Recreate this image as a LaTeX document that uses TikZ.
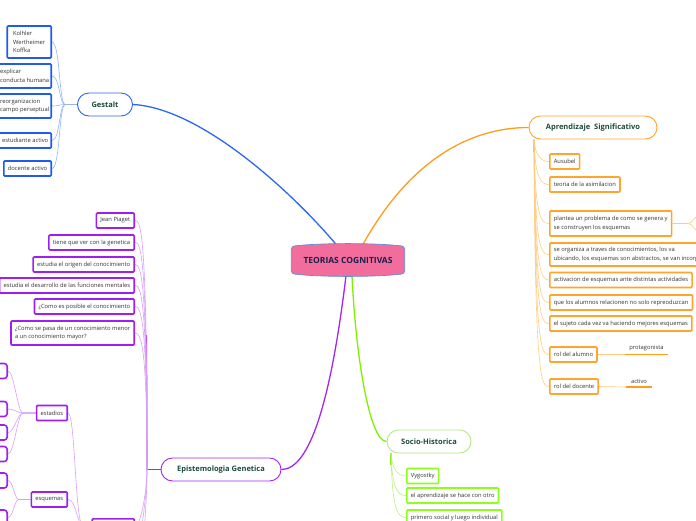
\documentclass[tikz,border=0pt]{standalone}
\usepackage{fontspec}
\setmainfont{Open Sans}
\usetikzlibrary{calc,backgrounds}
\definecolor{cpink}{HTML}{F26D9B}
\definecolor{cedge}{HTML}{5B8FD6}
\definecolor{cnavy}{HTML}{1A1F4F}
\definecolor{ctitle}{HTML}{1D4B3C}
\definecolor{ctxt}{HTML}{333333}
\definecolor{bmain}{HTML}{2B67F2}
\definecolor{bedge}{HTML}{1F5BF0}
\definecolor{blite}{HTML}{93B5F6}
\definecolor{omain}{HTML}{FF9C1A}
\definecolor{oedge}{HTML}{FFA52E}
\definecolor{olite}{HTML}{FFCB80}
\definecolor{pmain}{HTML}{A526EE}
\definecolor{pedge}{HTML}{A01FF0}
\definecolor{plite}{HTML}{D6A0F8}
\definecolor{gmain}{HTML}{80F000}
\definecolor{gedge}{HTML}{8CFF1A}
\definecolor{glite}{HTML}{BDF07D}
\definecolor{gnode}{HTML}{B8E58A}
\tikzset{
 topic/.style={draw, line width=0.9pt, rounded corners=11.5pt, minimum height=23pt, fill=white, text=ctitle, font=\fontsize{7.5}{9}\selectfont\bfseries, inner xsep=6pt},
 leaf/.style={draw, line width=1.6pt, rounded corners=1pt, fill=white, text=ctxt, font=\fontsize{5.8}{8.6}\selectfont, inner xsep=4pt, inner ysep=2pt, minimum height=15pt, align=left},
 twig/.style={line width=0.6pt},
 trunk/.style={line width=1.8pt},
 mainline/.style={line width=1.3pt},
 plain/.style={font=\fontsize{5.8}{8.6}\selectfont, text=ctxt, inner sep=1pt},
}
\begin{document}
\begin{tikzpicture}[x=1pt,y=-1pt]
\useasboundingbox (0,0) rectangle (696,520);
\clip (0,0) rectangle (696,520);

% central
\node[minimum width=114pt, minimum height=31pt, text=cnavy, font=\fontsize{8.5}{10}\selectfont\bfseries] (c) at (348,260) {TEORIAS COGNITIVAS};

% main topics
\node[topic, draw=bmain, minimum width=55pt] (g) at (105,104.5) {Gestalt};
\node[topic, draw=oedge, minimum width=128pt] (a) at (593,127.5) {Aprendizaje\ \ Significativo};
\node[topic, draw=pmain, minimum width=120pt] (e) at (221,469.5) {Epistemologia Genetica};
\node[topic, draw=gnode, minimum width=84pt] (s) at (429,441.5) {Socio-Historica};

% Gestalt leaves
\node[leaf, draw=bedge, anchor=east, minimum height=32pt, minimum width=44pt] (g1) at (52,42) {Kolhler\\Wertheimer\\Koffka};
\node[leaf, draw=bedge, anchor=east, minimum height=24pt, inner xsep=2pt] (g2) at (52,76) {explicar\\conducta humana};
\node[leaf, draw=bedge, anchor=east, minimum height=24pt, inner xsep=2pt] (g3) at (52,106) {reorganizacion\\campo perseptual};
\node[leaf, draw=bedge, anchor=east, inner xsep=3pt] (g4) at (52,140.5) {estudiante activo};
\node[leaf, draw=bedge, anchor=east] (g5) at (52,168.5) {docente activo};

% Aprendizaje leaves
\node[leaf, draw=oedge, anchor=west] (o1) at (549,161.5) {Ausubel};
\node[leaf, draw=oedge, anchor=west] (o2) at (549,184.5) {teoria de la asimilacion};
\node[leaf, draw=oedge, anchor=west, minimum height=25pt] (o3) at (549,223.5) {plantea un problema de como se genera y\\se construyen los esquemas};
\node[leaf, draw=oedge, anchor=west, minimum height=23pt] (o4) at (549,254.5) {se organiza a traves de conocimientos, los va\\ubicando, los esquemas son abstractos, se van incorporando};
\node[leaf, draw=oedge, anchor=west] (o5) at (549,280) {activacion de esquemas ante distintas actividades};
\node[leaf, draw=oedge, anchor=west] (o6) at (549,302.5) {que los alumnos relacionen no solo repreoduzcan};
\node[leaf, draw=oedge, anchor=west] (o7) at (549,323.5) {el sujeto cada vez va haciendo mejores esquemas};
\node[leaf, draw=oedge, anchor=west] (o8) at (549,354.5) {rol del alumno};
\node[leaf, draw=oedge, anchor=west] (o9) at (549,386.5) {rol del docente};
\coordinate (u1a) at (625,354.5);
\coordinate (u1b) at (668,354.5);
\coordinate (u2a) at (626,387);
\coordinate (u2b) at (652,387);
\node[plain, anchor=south] (pr) at ($(u1a)!0.5!(u1b)+(0,-2)$) {protagonista};
\node[plain, anchor=south] (ac) at ($(u2a)!0.5!(u2b)+(0,-2)$) {activo};
\coordinate (fk0) at (688,223.5);
\coordinate (fk1) at (700,215);
\coordinate (fk2) at (700,232);

% Epistemologia leaves
\node[leaf, draw=pedge, anchor=east] (p1) at (135,220.5) {Jean Piaget};
\node[leaf, draw=pedge, anchor=east] (p2) at (135,242.5) {tiene que ver con la genetica};
\node[leaf, draw=pedge, anchor=east] (p3) at (135,264.5) {estudia el origen del conocimiento};
\node[leaf, draw=pedge, anchor=east] (p4) at (135,285.5) {estudia el desarrollo de las funciones mentales};
\node[leaf, draw=pedge, anchor=east] (p5) at (135,306.5) {¿Como es posible el conocimiento};
\node[leaf, draw=pedge, anchor=east, minimum height=24pt] (p6) at (135,333) {¿Como se pasa de un conocimiento menor\\a un conocimiento mayor?};
\node[leaf, draw=pedge, anchor=north east, minimum width=42pt] (p7) at (135,518) {};
\node[leaf, draw=pedge, anchor=east] (est) at (68,413) {estadios};
\node[leaf, draw=pedge, anchor=east] (esq) at (68,499.5) {esquemas};
\node[leaf, draw=pedge, anchor=east, minimum width=30pt, rounded corners=3pt] (e1) at (8,371) {};
\node[leaf, draw=pedge, anchor=east, minimum width=30pt, rounded corners=3pt] (e2) at (8,409) {};
\node[leaf, draw=pedge, anchor=east, minimum width=30pt, rounded corners=3pt] (e3) at (8,432.5) {};
\node[leaf, draw=pedge, anchor=east, minimum width=30pt, rounded corners=3pt] (e4) at (8,454) {};
\node[leaf, draw=pedge, anchor=east, minimum width=30pt, rounded corners=3pt] (q1) at (8,480.5) {};
\node[leaf, draw=pedge, anchor=east, minimum width=30pt, rounded corners=3pt] (q2) at (8,517.5) {};
\coordinate (pc8) at (139,560);
\coordinate (pc9) at (142,600);

% Socio leaves
\node[leaf, draw=gedge, anchor=west] (s1) at (406,476) {Vygostky};
\node[leaf, draw=gedge, anchor=west] (s2) at (406,495.5) {el aprendizaje se hace con otro};
\node[leaf, draw=gedge, anchor=west] (s3) at (406,517.5) {primero social y luego individual};

\begin{scope}[on background layer]
% main connectors
\draw[mainline, bmain] ([xshift=-12pt]c.north) .. controls (290,190) and (200,108) .. (g.east);
\draw[mainline, omain] ([xshift=15pt]c.north) .. controls (410,160) and (470,127.5) .. (a.west);
\draw[mainline, pmain] ([xshift=-2pt]c.south) .. controls (331,400) and (310,469.5) .. (e.east);
\draw[mainline, gmain] ([xshift=4pt]c.south) .. controls (356,360) and (370,441.5) .. (s.west);

% central barrel shape
\draw[draw=cedge, fill=cpink, line width=0.7pt, rounded corners=3pt]
  ($(c.north west)+(0.5,2)$) .. controls ($(c.north west)+(30,-1.5)$) and ($(c.north east)+(-30,-1.5)$) .. ($(c.north east)+(-0.5,2)$)
  -- ($(c.south east)+(-0.5,-2)$) .. controls ($(c.south east)+(-30,1.5)$) and ($(c.south west)+(30,1.5)$) .. ($(c.south west)+(0.5,-2)$) -- cycle;

% Gestalt twigs
\foreach \n in {g1,g2,g3,g4,g5}
  \draw[twig, blite] (g.west) -- ++(-12,0) .. controls +(-6,0) and +(8,0) .. (\n.east);

% Aprendizaje twigs
\coordinate (at) at (534,139.5);
\draw[trunk, omain] (at) -- (534,152);
\foreach \n in {o1,o2,o3,o4,o5,o6,o7,o8,o9}
  \draw[twig, olite] (at) .. controls ($(at|-\n.west)+(1,-6)$) and ($(\n.west)+(-8,0)$) .. (\n.west);
\draw[twig, olite] (o8.east) -- (u1a);
\draw[line width=1.2pt, omain] (u1a) -- (u1b);
\draw[twig, olite] (o9.east) -- (u2a);
\draw[line width=1.2pt, omain] (u2a) -- (u2b);
\draw[twig, olite] (o3.east) -- (fk0) .. controls (693,223.5) and (694,216) .. (fk1);
\draw[twig, olite] (fk0) .. controls (693,223.5) and (694,231) .. (fk2);

% Epistemologia twigs
\coordinate (et) at (147,469.5);
\draw[trunk, pmain] (e.west) -- (et);
\draw[line width=1.2pt, pmain] (et) -- (146.5,335);
\foreach \n in {p1,p2,p3,p4,p5,p6}
  \draw[twig, plite] (et) .. controls ($(et|-\n.east)+(0,12)$) and ($(\n.east)+(6,0)$) .. (\n.east);
\draw[twig, plite] (et) .. controls (147,490) and (141,525.5) .. (p7.east);
\draw[twig, plite] (et) .. controls (147,500) and (140,530) .. (pc8);
\draw[twig, plite] (et) .. controls (147,510) and (142,540) .. (pc9);
\coordinate (pj) at (82,525.5);
\draw[twig, plite] (p7.west) -- (pj) .. controls (75,515) and (75,413) .. (est.east);
\draw[twig, plite] (pj) .. controls (76,520) and (76,499.5) .. (esq.east);
\foreach \n in {e1,e2,e3,e4}
  \draw[twig, plite] (est.west) -- ++(-13,0) .. controls +(-5,0) and +(6,0) .. (\n.east);
\foreach \n in {q1,q2}
  \draw[twig, plite] (esq.west) -- ++(-12,0) .. controls +(-4,0) and +(5,0) .. (\n.east);

% Socio twigs
\coordinate (st) at (391,453);
\draw[trunk, gmain] (st) -- (391,465);
\foreach \n in {s1,s2,s3}
  \draw[twig, glite] (st) .. controls ($(st|-\n.west)+(1,-6)$) and ($(\n.west)+(-8,0)$) .. (\n.west);
\end{scope}
\end{tikzpicture}
\end{document}
